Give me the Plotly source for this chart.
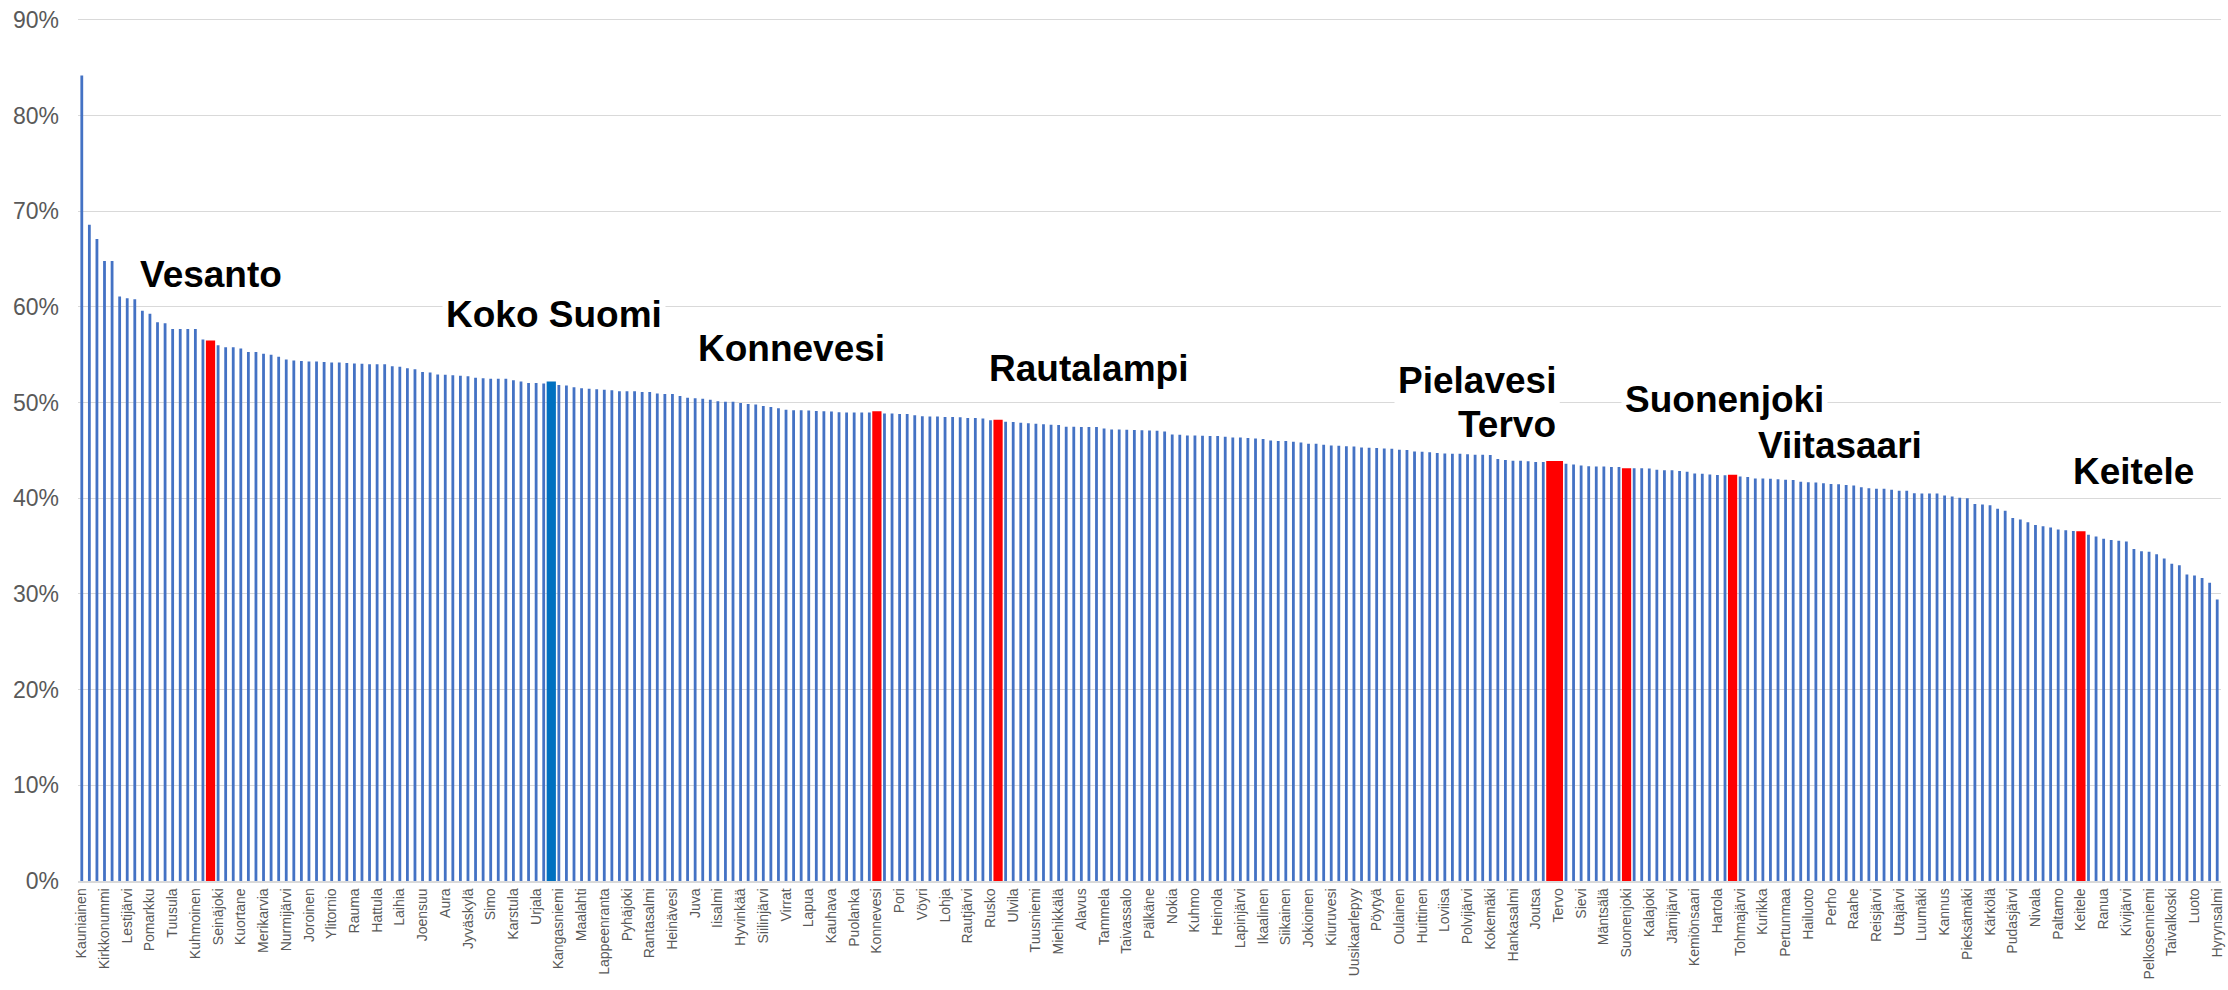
import plotly.graph_objects as go

# Tick labels (every third municipality is labelled on the axis)
tick_labels = [
    "Kauniainen", "Kirkkonummi", "Lestijärvi", "Pomarkku", "Tuusula", "Kuhmoinen",
    "Seinäjoki", "Kuortane", "Merikarvia", "Nurmijärvi", "Joroinen", "Ylitornio",
    "Rauma", "Hattula", "Laihia", "Joensuu", "Aura", "Jyväskylä", "Simo", "Karstula",
    "Urjala", "Kangasniemi", "Maalahti", "Lappeenranta", "Pyhäjoki", "Rantasalmi",
    "Heinävesi", "Juva", "Iisalmi", "Hyvinkää", "Siilinjärvi", "Virrat", "Lapua",
    "Kauhava", "Puolanka", "Konnevesi", "Pori", "Vöyri", "Lohja", "Rautjärvi", "Rusko",
    "Ulvila", "Tuusniemi", "Miehikkälä", "Alavus", "Tammela", "Taivassalo", "Pälkäne",
    "Nokia", "Kuhmo", "Heinola", "Lapinjärvi", "Ikaalinen", "Siikainen", "Jokioinen",
    "Kiuruvesi", "Uusikaarlepyy", "Pöytyä", "Oulainen", "Huittinen", "Loviisa",
    "Polvijärvi", "Kokemäki", "Hankasalmi", "Joutsa", "Tervo", "Sievi", "Mäntsälä",
    "Suonenjoki", "Kalajoki", "Jämijärvi", "Kemiönsaari", "Hartola", "Tohmajärvi",
    "Kurikka", "Pertunmaa", "Hailuoto", "Perho", "Raahe", "Reisjärvi", "Utajärvi",
    "Luumäki", "Kannus", "Pieksämäki", "Kärkölä", "Pudasjärvi", "Nivala", "Paltamo",
    "Keitele", "Ranua", "Kivijärvi", "Pelkosenniemi", "Taivalkoski", "Luoto", "Hyrynsalmi",
]

# Share (%) for every bar, in chart order (283 bars)
values = [
    84.2, 68.6, 67.1, 64.8, 64.8, 61.1, 60.9, 60.8, 59.6, 59.3,
    58.4, 58.3, 57.7, 57.7, 57.7, 57.7, 56.6, 56.5, 56.0, 55.8,
    55.8, 55.65, 55.3, 55.3, 55.1, 55.0, 54.8, 54.5, 54.4, 54.35,
    54.3, 54.3, 54.25, 54.2, 54.2, 54.15, 54.1, 54.05, 54.0, 54.0,
    54.0, 53.8, 53.75, 53.6, 53.5, 53.2, 53.15, 52.95, 52.9, 52.85,
    52.8, 52.75, 52.6, 52.55, 52.5, 52.5, 52.5, 52.35, 52.2, 52.05,
    52.05, 52.0, 52.2, 51.85, 51.8, 51.6, 51.5, 51.45, 51.4, 51.35,
    51.3, 51.2, 51.2, 51.2, 51.1, 51.1, 50.95, 50.9, 50.9, 50.7,
    50.5, 50.45, 50.4, 50.3, 50.15, 50.1, 50.1, 49.95, 49.85, 49.8,
    49.65, 49.55, 49.4, 49.25, 49.2, 49.2, 49.17, 49.13, 49.1, 49.06,
    49.0, 48.97, 48.97, 48.97, 48.97, 49.1, 48.85, 48.85, 48.82, 48.82,
    48.68, 48.58, 48.55, 48.55, 48.5, 48.5, 48.47, 48.4, 48.4, 48.33,
    48.16, 48.2, 48.0, 47.97, 47.9, 47.85, 47.78, 47.74, 47.68, 47.65,
    47.47, 47.47, 47.45, 47.45, 47.45, 47.3, 47.2, 47.2, 47.17, 47.13,
    47.12, 47.09, 47.05, 46.98, 46.67, 46.63, 46.56, 46.56, 46.53, 46.5,
    46.5, 46.43, 46.36, 46.36, 46.3, 46.26, 46.2, 46.05, 45.98, 45.98,
    45.9, 45.84, 45.7, 45.7, 45.6, 45.52, 45.49, 45.45, 45.42, 45.32,
    45.28, 45.25, 45.21, 45.18, 45.07, 45.04, 44.9, 44.86, 44.8, 44.73,
    44.69, 44.66, 44.66, 44.6, 44.55, 44.55, 44.52, 44.1, 44.0, 43.93,
    43.93, 43.86, 43.8, 43.8, 43.9, 43.9, 43.6, 43.53, 43.42, 43.35,
    43.32, 43.32, 43.28, 43.28, 43.15, 43.15, 43.15, 43.12, 42.98, 42.92,
    42.92, 42.85, 42.78, 42.6, 42.57, 42.5, 42.44, 42.4, 42.45, 42.29,
    42.22, 42.08, 42.08, 42.05, 42.0, 41.95, 41.92, 41.74, 41.67, 41.64,
    41.57, 41.5, 41.47, 41.4, 41.33, 41.15, 41.05, 41.01, 41.01, 40.9,
    40.8, 40.8, 40.53, 40.5, 40.5, 40.5, 40.28, 40.2, 40.07, 40.0,
    39.41, 39.34, 39.27, 38.92, 38.71, 37.95, 37.78, 37.5, 37.22, 37.08,
    36.94, 36.73, 36.66, 36.59, 36.55, 36.2, 36.0, 35.76, 35.65, 35.55,
    35.48, 34.71, 34.47, 34.4, 34.16, 33.7, 33.15, 33.0, 32.03, 31.93,
    31.68, 31.16, 29.42,
]

# Highlighted municipalities: bar index -> name
highlight_red = {17: "Vesanto", 105: "Konnevesi", 121: "Rautalampi", 194: "Pielavesi",
                 195: "Tervo", 204: "Suonenjoki", 218: "Viitasaari", 264: "Keitele"}
highlight_blue = {62: "Koko Suomi"}

# Callout label positions (bar-index units, percent)
callouts = [
    ("Vesanto", 17.0, 63.4), ("Koko Suomi", 62.3, 59.2), ("Konnevesi", 93.7, 55.65),
    ("Rautalampi", 133.0, 53.6), ("Pielavesi", 184.3, 52.3), ("Tervo", 188.2, 47.7),
    ("Suonenjoki", 216.9, 50.3), ("Viitasaari", 232.2, 45.55), ("Keitele", 270.9, 42.85),
]

y_ticks = list(range(0, 91, 10))

n = len(values)
xs = list(range(n))
colors, widths = [], []
for i in xs:
    if i in highlight_red:
        colors.append("#FF0000"); widths.append(1.22)
    elif i in highlight_blue:
        colors.append("#0070C0"); widths.append(1.22)
    else:
        colors.append("#4472C4"); widths.append(0.37)

fig = go.Figure(go.Bar(x=xs, y=values, width=widths, marker=dict(color=colors, line=dict(width=0)),
                       hoverinfo="y"))

for text, x, y in callouts:
    fig.add_annotation(x=x, y=y, xref="x", yref="y", text=text, showarrow=False,
                       xanchor="center", yanchor="middle", bgcolor="white", borderpad=3,
                       font=dict(family="Liberation Sans, Arial", size=37, color="black", weight="bold"))

fig.update_layout(
    width=2228, height=990,
    margin=dict(l=78, r=7, t=18, b=109, autoexpand=False),
    plot_bgcolor="white", paper_bgcolor="white",
    showlegend=False,
    font=dict(family="Liberation Sans, Arial", color="#595959"),
)
fig.update_xaxes(
    range=[-0.5, n - 0.5], tickmode="array",
    tickvals=list(range(0, n, 3))[:len(tick_labels)], ticktext=tick_labels,
    tickangle=-90, tickfont=dict(size=14, color="#595959"),
    showgrid=False, showline=True, linecolor="#D9D9D9", linewidth=1.5,
    ticks="", zeroline=False, automargin=False,
)
fig.update_yaxes(
    range=[0, 90.2], tickmode="array", tickvals=y_ticks,
    ticktext=[f"{v}%" for v in y_ticks],
    tickfont=dict(size=23, color="#595959"),
    showgrid=True, gridcolor="#D9D9D9", gridwidth=1.3,
    zeroline=False, showline=False, ticks="", ticklabelstandoff=18, automargin=False,
)

fig.write_html("out.html", config={"displayModeBar": False},
               post_script="document.body.style.margin='0';document.body.style.overflow='hidden';")
